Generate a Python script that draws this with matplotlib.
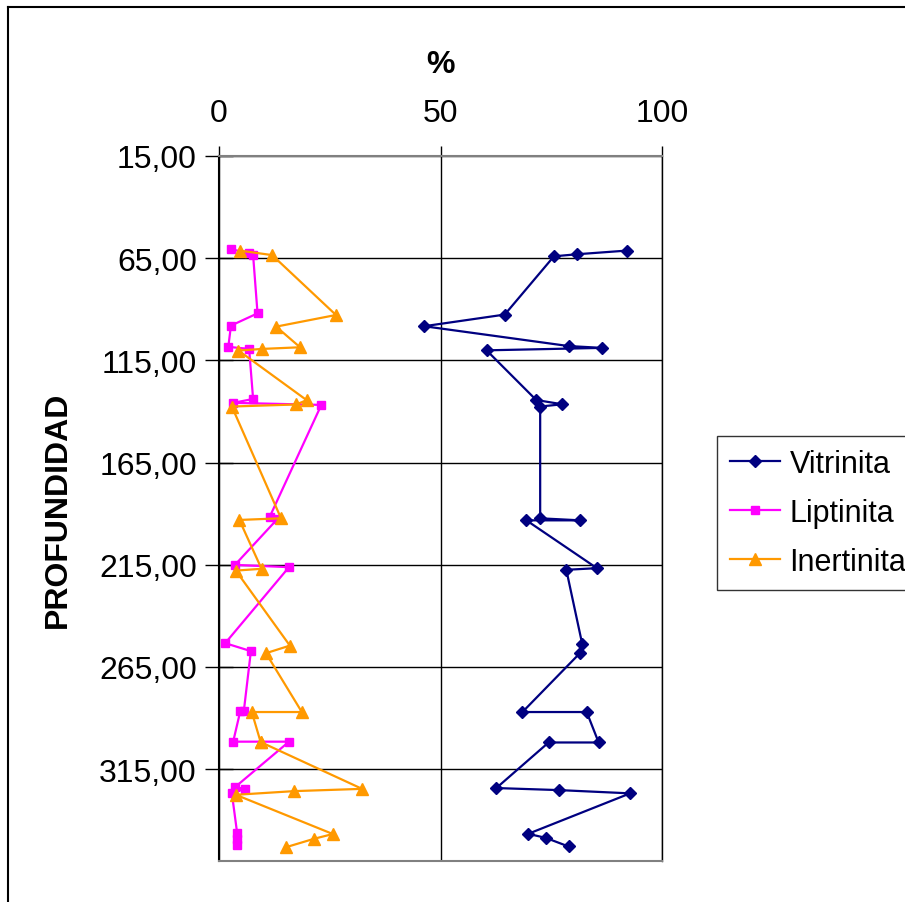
import numpy as np
import matplotlib
matplotlib.use("Agg")
import matplotlib.pyplot as plt
from matplotlib.lines import Line2D
from matplotlib.ticker import FuncFormatter

plt.rcParams['font.family'] = ['Liberation Sans', 'DejaVu Sans']

# macerales (%) por profundidad
depth_v = [61.3, 63.1, 64.1, 92.6, 98.3, 108.0, 108.9, 110.1, 134.4, 136.5, 137.6,
           192.3, 193.3, 193.3, 216.7, 217.5, 253.9, 258.0, 287.1, 287.1, 302.0,
           302.0, 324.3, 325.3, 326.9, 346.7, 348.7, 352.9]
vitrinita = [92.0, 80.7, 75.6, 64.5, 46.3, 78.9, 86.5, 60.4, 71.6, 77.5, 72.5,
             72.5, 81.6, 69.4, 85.3, 78.4, 82.0, 81.6, 68.5, 83.0, 85.7,
             74.4, 62.6, 76.7, 92.8, 69.8, 73.8, 78.9]

depth_l = [60.6, 62.6, 63.6, 92.0, 98.0, 108.4, 109.4, 133.9, 135.8, 136.8,
           191.8, 192.6, 215.1, 216.2, 253.4, 257.3, 286.7, 286.7, 301.6, 301.6,
           323.9, 324.7, 326.8, 346.4, 349.0, 352.0]
liptinita = [2.7, 6.8, 7.7, 8.7, 2.7, 2.1, 6.8, 7.7, 3.2, 23.1,
             11.4, 13.2, 3.6, 15.8, 1.4, 7.2, 5.6, 4.8, 3.2, 15.8,
             3.6, 5.9, 2.9, 4.1, 4.1, 4.1]

depth_i = [61.3, 63.5, 92.8, 98.5, 108.6, 109.4, 110.2, 134.5, 136.6, 137.6,
           192.3, 193.1, 217.0, 217.9, 254.6, 258.3, 287.1, 287.1, 301.8, 301.8,
           324.7, 325.8, 327.6, 346.8, 349.1, 353.2]
inertinita = [4.7, 12.0, 26.4, 12.9, 18.3, 9.8, 4.4, 19.8, 17.4, 2.9,
              14.0, 4.6, 9.6, 3.8, 16.0, 10.6, 18.7, 7.4, 9.4, 9.4,
              32.3, 17.0, 3.8, 25.7, 21.5, 15.2]

W, H = 905, 903
fig = plt.figure(figsize=(W / 100, H / 100), dpi=100)
ax = fig.add_axes([219 / W, 1 - 862 / H, (662 - 219) / W, (862 - 157) / H])

ax.plot(vitrinita, depth_v, color='#000080', marker='D', ms=6, lw=1.6, label='Vitrinita')
ax.plot(liptinita, depth_l, color='#FF00FF', marker='s', ms=6, lw=1.6, label='Liptinita')
ax.plot(inertinita, depth_i, color='#FF9900', marker='^', ms=8, lw=1.6, label='Inertinita')

ax.set_xlim(0, 100)
ax.set_ylim(360, 15)
ax.set_xticks([0, 50, 100])
ax.set_yticks(np.arange(15, 316, 50))
ax.yaxis.set_major_formatter(FuncFormatter(lambda v, p: f'{v:.2f}'.replace('.', ',')))

ax.xaxis.tick_top()
ax.xaxis.set_label_position('top')
ax.tick_params(axis='x', direction='out', length=7, width=1, pad=13, labelsize=23)
ax.tick_params(axis='y', direction='inout', length=20, width=1, pad=6, labelsize=23)

ax.set_xlabel('%', fontsize=23, fontweight='bold', labelpad=19)
ax.set_ylabel('PROFUNDIDAD', fontsize=23, fontweight='bold', labelpad=19)

ax.set_axisbelow(True)
ax.grid(True, color='black', lw=1)
for side in ('top', 'bottom'):
    ax.spines[side].set_color('#808080')
    ax.spines[side].set_linewidth(1.5)
ax.spines['left'].set_linewidth(1.5)
ax.spines['right'].set_linewidth(1)

leg = fig.legend(loc='upper left', bbox_to_anchor=(717 / W, 1 - 437 / H),
                 fontsize=22, frameon=True, fancybox=False, edgecolor='black',
                 handlelength=1.65, handletextpad=0.3, labelspacing=0.62,
                 borderpad=0.42, borderaxespad=0)
leg.get_frame().set_linewidth(1)

# marco exterior
fig.add_artist(Line2D([8 / W, 8 / W], [0, 1 - 8 / H], color='black', lw=1.5))
fig.add_artist(Line2D([8 / W, 1], [1 - 8 / H, 1 - 8 / H], color='black', lw=1.5))

fig.savefig('out.png', dpi=100)
